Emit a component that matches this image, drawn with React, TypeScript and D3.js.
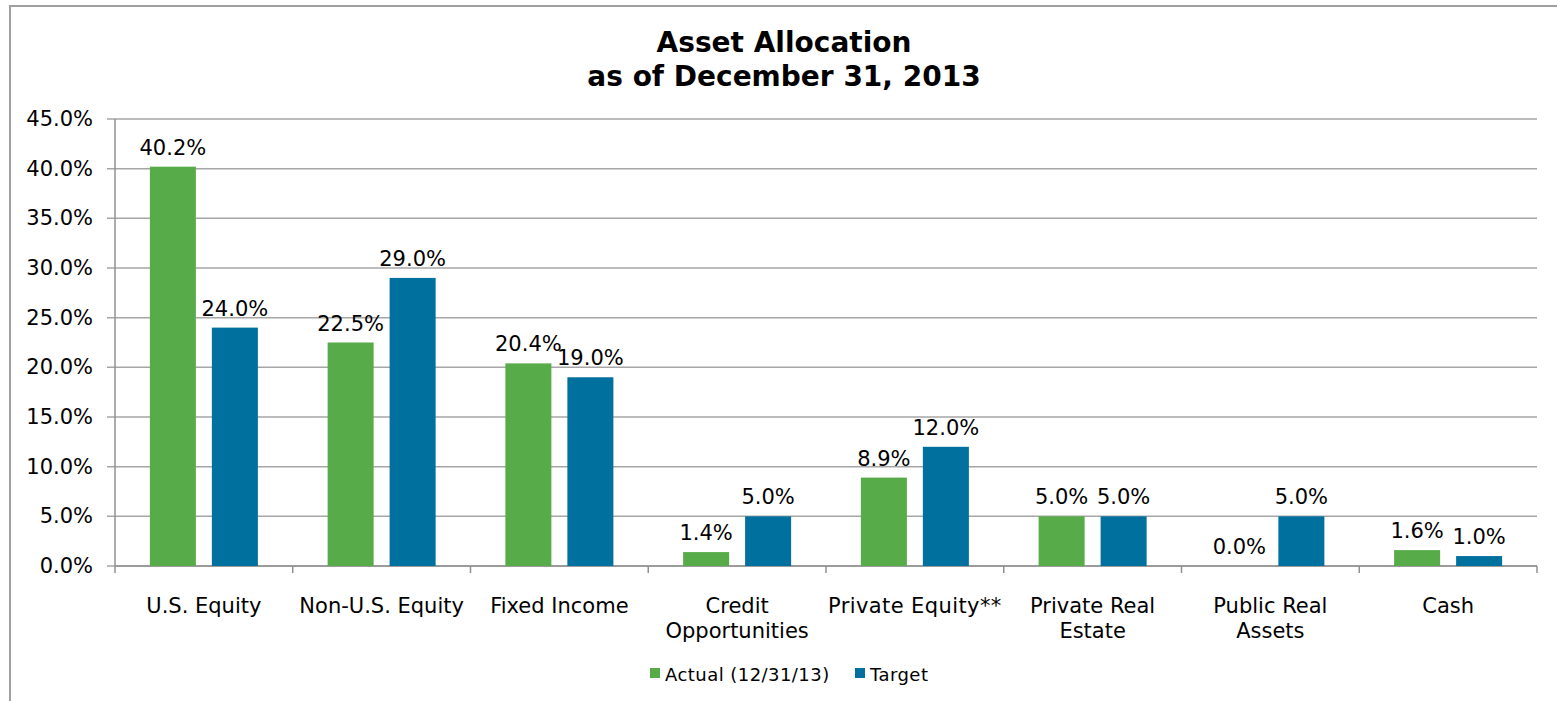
import React from 'react';
import * as d3 from 'd3';

const categories = [
  ['U.S. Equity'],
  ['Non-U.S. Equity'],
  ['Fixed Income'],
  ['Credit', 'Opportunities'],
  ['Private Equity**'],
  ['Private Real', 'Estate'],
  ['Public Real', 'Assets'],
  ['Cash'],
];
const actual = [40.2, 22.5, 20.4, 1.4, 8.9, 5.0, 0.0, 1.6];
const target = [24.0, 29.0, 19.0, 5.0, 12.0, 5.0, 5.0, 1.0];
const seriesNames = ['Actual (12/31/13)', 'Target'];
const seriesColors = ['#57ab48', '#00709e'];
const yTicks = [0, 5, 10, 15, 20, 25, 30, 35, 40, 45];

const W = 1557;
const H = 701;
const FONT = '"DejaVu Sans", Verdana, sans-serif';

export default function App() {
  const left = 115;
  const right = 1537;
  const top = 119;
  const bottom = 566;

  const keys = categories.map((c) => c.join(' '));
  const x = d3.scaleBand<string>().domain(keys).range([left, right]).padding(0);
  const sub = d3
    .scaleBand<number>()
    .domain([0, 1])
    .range([0, x.bandwidth()])
    .paddingInner(0.258)
    .paddingOuter(0.5625);
  const y = d3.scaleLinear().domain([0, 45]).range([bottom, top]);

  const series = [actual, target];

  return (
    <div style={{ position: 'absolute', left: 0, top: 0 }}>
      <svg width={W} height={H} style={{ display: 'block', background: '#fff' }}>
        {/* outer frame */}
        <rect x={10} y={6} width={W} height={H} fill="none" stroke="#a0a0a0" strokeWidth={2} />

        <text x={784} y={52} textAnchor="middle" fontFamily={FONT} fontWeight="bold" fontSize={28} fill="#000">
          Asset Allocation
        </text>
        <text x={784} y={86} textAnchor="middle" fontFamily={FONT} fontWeight="bold" fontSize={28} fill="#000">
          as of December 31, 2013
        </text>

        {/* gridlines and y ticks */}
        {yTicks.map((t) => (
          <g key={t}>
            <line x1={left - 8} x2={right} y1={y(t)} y2={y(t)} stroke="#a6a6a6" strokeWidth={1.5} />
            <text x={93} y={y(t) + 7} textAnchor="end" fontFamily={FONT} fontSize={21} fill="#000">
              {t.toFixed(1)}%
            </text>
          </g>
        ))}
        <line x1={left} x2={left} y1={top} y2={bottom + 7} stroke="#909090" strokeWidth={1.5} />
        <line x1={left} x2={right} y1={bottom} y2={bottom} stroke="#909090" strokeWidth={1.5} />
        {keys.map((k) => (
          <line
            key={k}
            x1={(x(k) as number) + x.bandwidth()}
            x2={(x(k) as number) + x.bandwidth()}
            y1={bottom}
            y2={bottom + 7}
            stroke="#909090"
            strokeWidth={1.5}
          />
        ))}

        {/* bars */}
        {keys.map((k, i) =>
          series.map((s, j) => {
            const bx = (x(k) as number) + (sub(j) as number);
            const v = s[i];
            return (
              <g key={k + j}>
                {v > 0 && (
                  <rect
                    x={bx}
                    y={y(v)}
                    width={sub.bandwidth()}
                    height={bottom - y(v)}
                    fill={seriesColors[j]}
                  />
                )}
                <text
                  x={bx + sub.bandwidth() / 2}
                  y={y(v) - 12}
                  textAnchor="middle"
                  fontFamily={FONT}
                  fontSize={21}
                  fill="#000"
                >
                  {v.toFixed(1)}%
                </text>
              </g>
            );
          })
        )}

        {/* category labels */}
        {categories.map((lines, i) => {
          const cx = (x(keys[i]) as number) + x.bandwidth() / 2;
          return (
            <text key={keys[i]} x={cx} y={613} textAnchor="middle" fontFamily={FONT} fontSize={21} fill="#000">
              {lines.map((l, li) => (
                <tspan key={l} x={cx} dy={li === 0 ? 0 : 25} letterSpacing={l.endsWith('**') ? 0.4 : 0}>
                  {l}
                </tspan>
              ))}
            </text>
          );
        })}

        {/* legend */}
        <rect x={650} y={668} width={10} height={10} fill={seriesColors[0]} />
        <text x={665} y={681} fontFamily={FONT} fontSize={18} letterSpacing={0.45} fill="#000">
          {seriesNames[0]}
        </text>
        <rect x={855} y={668} width={10} height={10} fill={seriesColors[1]} />
        <text x={870} y={681} fontFamily={FONT} fontSize={18} letterSpacing={0.45} fill="#000">
          {seriesNames[1]}
        </text>
      </svg>
    </div>
  );
}
